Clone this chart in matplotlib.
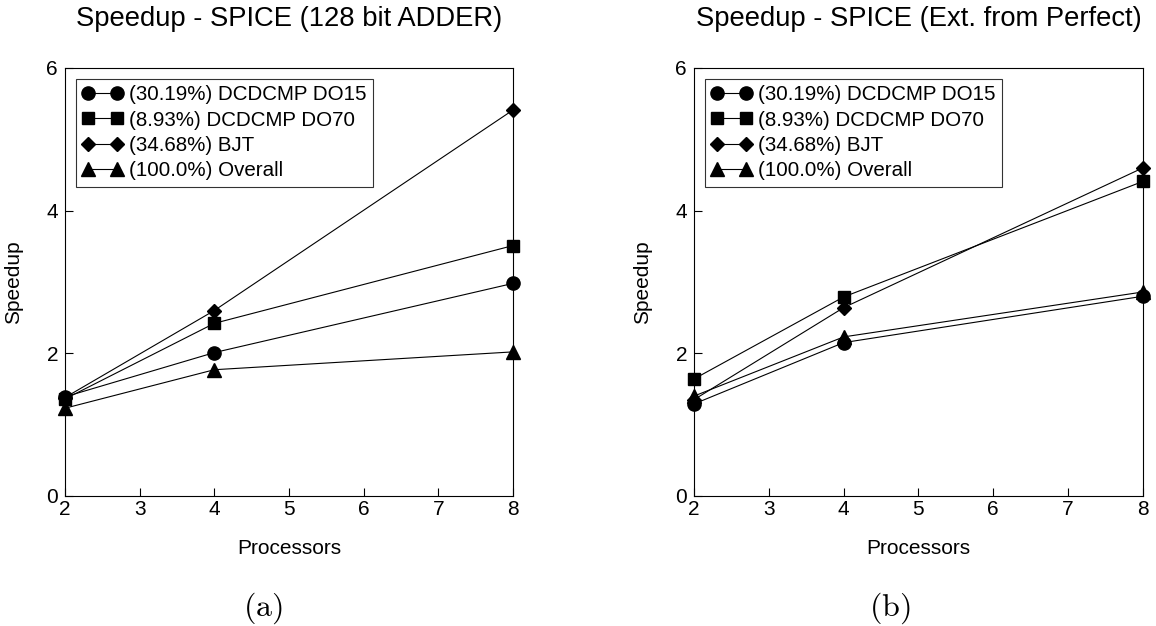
import matplotlib
matplotlib.use("Agg")
from matplotlib import pyplot as plt

plt.rcParams['font.family'] = ['Liberation Sans', 'DejaVu Sans']
plt.rcParams['mathtext.fontset'] = 'cm'

processors = [2, 4, 8]
labels = ["(30.19%) DCDCMP DO15", "(8.93%) DCDCMP DO70",
          "(34.68%) BJT", "(100.0%) Overall"]
markers = ["o", "s", "D", "^"]
msizes = [9.5, 8.5, 7.5, 9.5]

# (a) 128 bit ADDER
adder_do15 = [1.39, 2.01, 2.98]
adder_do70 = [1.36, 2.42, 3.51]
adder_bjt = [1.38, 2.60, 5.41]
adder_overall = [1.23, 1.77, 2.02]

# (b) Ext. from Perfect
perf_do15 = [1.29, 2.15, 2.80]
perf_do70 = [1.64, 2.79, 4.41]
perf_bjt = [1.35, 2.64, 4.60]
perf_overall = [1.40, 2.23, 2.86]

fig = plt.figure(figsize=(11.56, 6.26), dpi=100)
ax1 = fig.add_axes([0.0562, 0.2077, 0.3875, 0.6837])
ax2 = fig.add_axes([0.6003, 0.2077, 0.3884, 0.6837])


def draw_panel(ax, series, title, tag, tag_x):
    for vals, lab, m, ms in zip(series, labels, markers, msizes):
        ax.plot(processors, vals, color="black", lw=0.8, marker=m,
                markersize=ms, label=lab, clip_on=False)
    ax.set_xlim(2, 8)
    ax.set_ylim(0, 6)
    ax.set_xticks([2, 3, 4, 5, 6, 7, 8])
    ax.set_yticks([0, 2, 4, 6])
    ax.tick_params(direction="in", length=6, width=0.8, labelsize=15,
                   top=False, right=False)
    ax.tick_params(axis="x", pad=3)
    ax.tick_params(axis="y", pad=5)
    for s in ax.spines.values():
        s.set_linewidth(0.8)
    ax.set_xlabel("Processors", fontsize=15, labelpad=14)
    ax.set_ylabel("Speedup", fontsize=15, labelpad=17)
    ax.set_title(title, fontsize=19.7, pad=30)
    leg = ax.legend(loc="upper left", numpoints=2, fontsize=14.8,
                    frameon=True, fancybox=False, edgecolor="black",
                    handlelength=2.0, handletextpad=0.3, borderpad=0.3,
                    labelspacing=0.31, borderaxespad=0,
                    bbox_to_anchor=(0.0245, 0.974))
    leg.get_frame().set_linewidth(0.8)
    fig.text(tag_x, 0.029, tag, fontsize=23, ha="center", va="center")


draw_panel(ax1, [adder_do15, adder_do70, adder_bjt, adder_overall],
           "Speedup - SPICE (128 bit ADDER)", r"$\mathrm{(a)}$", 263 / 1156)
draw_panel(ax2, [perf_do15, perf_do70, perf_bjt, perf_overall],
           "Speedup - SPICE (Ext. from Perfect)", r"$\mathrm{(b)}$", 890 / 1156)

fig.savefig("out.png", dpi=100)
